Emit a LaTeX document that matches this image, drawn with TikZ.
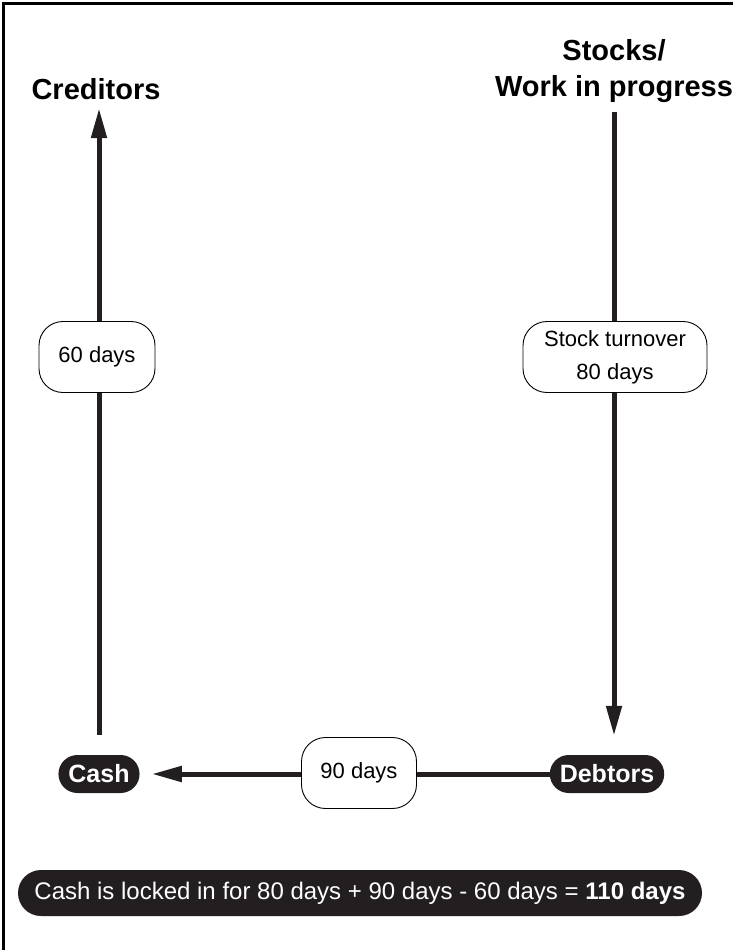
\documentclass[tikz,border=0pt]{standalone}
\usepackage{fontspec}
\setmainfont{Liberation Sans}
\usepackage{xcolor}
\usetikzlibrary{positioning}
\usetikzlibrary{arrows.meta}

\definecolor{pillgray}{HTML}{231F20}

\begin{document}
\begin{tikzpicture}[x=1pt, y=-1pt,
    flow/.style={line width=5pt, pillgray, -{Triangle[length=30pt, width=15pt]}},
    daybox/.style={draw, fill=white, rounded corners=24pt, line width=0.9pt, inner sep=0pt,
        minimum height=71pt, align=center, font=\fontsize{22}{33}\selectfont},
    pill/.style={fill=pillgray, text=white, rounded corners=19pt, minimum height=38pt,
        inner xsep=10pt, font=\bfseries\fontsize{25}{28}\selectfont},
    heading/.style={align=center, font=\bfseries\fontsize{29}{36}\selectfont}]
    \useasboundingbox (0,0) rectangle (733,950);

    % Frame
    \draw[line width=3pt] (3,950) -- (3,4) -- (733,4);

    % Nodes
    \node[heading] (creditors) at (96,89) {Creditors};
    \node[heading] (stocks) at (614,71) {Stocks/\\Work in progress};
    \node[pill] (cash) at (99,774) {Cash};
    \node[pill] (debtors) at (607,774) {Debtors};
    \node[pill, minimum height=46pt, rounded corners=23pt, minimum width=684pt,
        font=\fontsize{24}{28}\selectfont]
        (summary) at (360,893) {Cash is locked in for 80 days + 90 days - 60 days = \textbf{110 days}};

    % Edges
    \draw[flow] ([yshift=20pt]cash.north) -- ([yshift=-5pt]cash.north |- creditors.south);
    \draw[flow] ([yshift=-6pt]stocks.south) -- ([yshift=19pt]debtors.north -| stocks.south);
    \draw[flow] (debtors.west) -- ([xshift=12pt]cash.east);

    % Day labels
    \node[daybox, minimum width=116pt] (creditdays) at (97,357) {60 days};
    \node[daybox, minimum width=184pt] (stockdays) at (615,357) {Stock turnover\\80 days};
    \node[daybox, minimum width=115pt] (debtdays) at (359,773) {90 days};
\end{tikzpicture}
\end{document}
